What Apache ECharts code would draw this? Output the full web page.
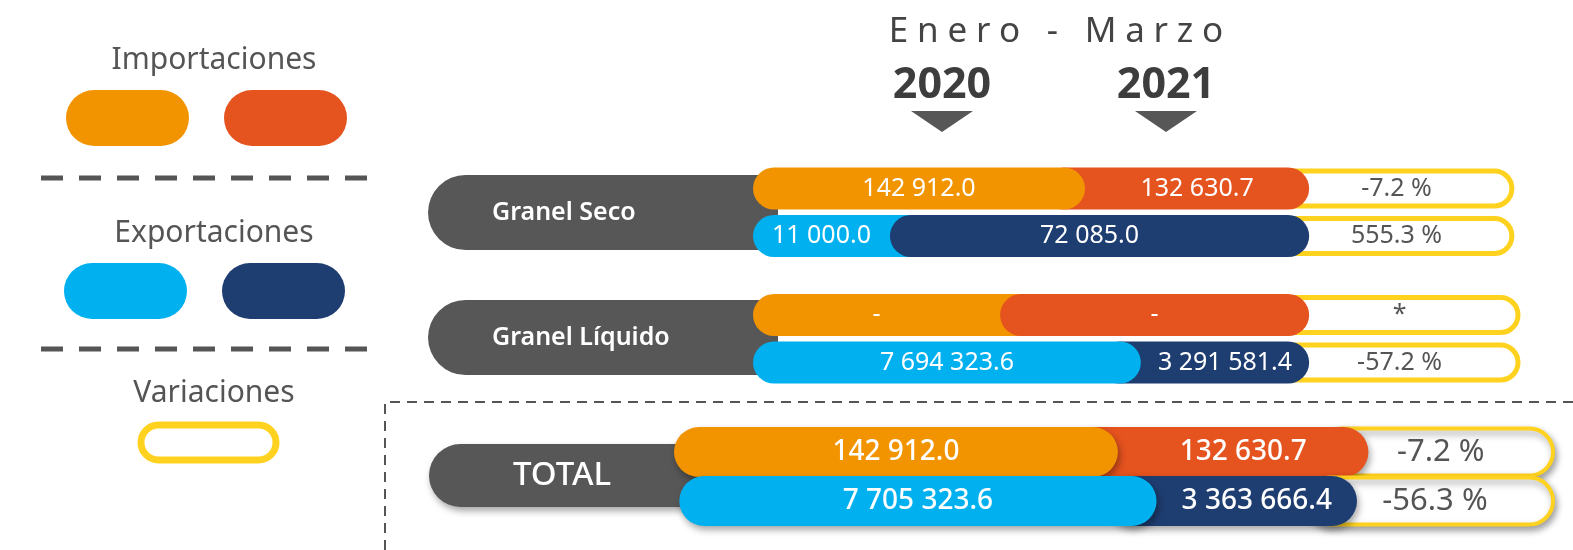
<!DOCTYPE html>
<html>
<head>
<meta charset="utf-8">
<script src="https://cdn.jsdelivr.net/npm/echarts@6/dist/echarts.min.js"></script>
<style>
  html, body { margin: 0; padding: 0; background: #fff; }
  #main { width: 1573px; height: 550px; }
</style>
</head>
<body>
<div id="main"></div>
<script>
// grupos y flujos
const groups = ['Granel Seco', 'Granel Líquido', 'TOTAL']
const flows = ['Importaciones', 'Exportaciones']
const years = ['2020', '2021']

// valores (toneladas) tal como se leen
const imp2020 = ['142 912.0', '-', '142 912.0']
const imp2021 = ['132 630.7', '-', '132 630.7']
const exp2020 = ['11 000.0', '7 694 323.6', '7 705 323.6']
const exp2021 = ['72 085.0', '3 291 581.4', '3 363 666.4']
const impVar = ['-7.2 %', '*', '-7.2 %']
const expVar = ['555.3 %', '-57.2 %', '-56.3 %']

// largo de cada tramo (% de la pista)
const impStart = [0, 0, 0]
const impSplit = [43.4, 32.3, 50.5]
const impEnd = [72.7, 72.7, 79.0]
const impVarEnd = [99.2, 100, 100]
const expStart = [0, 0, 0.6]
const expSplit = [17.9, 50.7, 54.9]
const expEnd = [72.7, 72.7, 77.7]
const expVarEnd = [99.2, 100, 100]
// que tramo queda encima en el corte
const impTop = ['left', 'right', 'left']
const expTop = ['right', 'left', 'left']

const C = {
  orange: '#F29400', red: '#E5531F', light: '#00B0EF', dark: '#1E3D71',
  gray: '#575757', yellow: '#FFD21F', text: '#555555'
}
const FONT = '"Noto Sans", "Open Sans", sans-serif'

const chart = echarts.init(document.getElementById('main'))

const gridPos = [
  { left: 753, width: 765, top: 164.75, height: 95 },
  { left: 753, width: 765, top: 291.25, height: 95 },
  { left: 674, width: 879, top: 427.5, height: 98 }
]

const makeSeries = (g) => {
  const big = g === 2
  const rows = [
    [0, impStart[g], impSplit[g], impEnd[g], impVarEnd[g]],
    [1, expStart[g], expSplit[g], expEnd[g], expVarEnd[g]]
  ]
  const txt = [
    [imp2020[g], imp2021[g], impVar[g], impTop[g], C.orange, C.red],
    [exp2020[g], exp2021[g], expVar[g], expTop[g], C.light, C.dark]
  ]
  const shadow = big ? { shadowBlur: 7, shadowOffsetX: 2, shadowOffsetY: 4, shadowColor: 'rgba(0,0,0,0.35)' } : {}
  return {
    type: 'custom',
    xAxisIndex: g,
    yAxisIndex: g,
    data: rows,
    renderItem: (params, api) => {
      const row = api.value(0)
      const t = txt[row]
      const px = (v) => api.coord([v, row])[0]
      const y = api.coord([0, row])[1]
      const band = api.size([0, 1])[1]
      const h = big ? 50 : band * 0.884
      const vh = big ? 47 : 35
      const x0 = px(api.value(1)), xs = px(api.value(2)), xe = px(api.value(3)), xv = px(api.value(4))
      const fs = big ? 28 : 25
      const fw = big ? 500 : 400
      const pill = (x1, x2, color) => ({
        type: 'rect',
        shape: { x: x1, y: y - h / 2, width: x2 - x1, height: h, r: h / 2 },
        style: Object.assign({ fill: color }, shadow)
      })
      const label = (cx, s, color, size, weight) => ({
        type: 'text',
        style: {
          x: cx, y: y, text: s, fill: color, fontSize: size || fs, fontWeight: weight || fw,
          fontFamily: FONT, align: 'center', verticalAlign: 'middle'
        }
      })
      const children = []
      children.push({
        type: 'rect',
        shape: { x: xe - h, y: y - vh / 2, width: xv - (xe - h), height: vh, r: vh / 2 },
        style: Object.assign({ fill: '#fff', stroke: C.yellow, lineWidth: big ? 4 : 5 }, shadow)
      })
      if (t[3] === 'left') {
        children.push(pill(xs - h, xe, t[5]))
        children.push(pill(x0, xs, t[4]))
      } else {
        children.push(pill(x0, xs + h, t[4]))
        children.push(pill(xs, xe, t[5]))
      }
      children.push(label((x0 + xs) / 2, t[0], '#fff'))
      children.push(label((xs + xe) / 2 - (t[3] === 'right' && row === 1 && !big ? 10 : 0), t[1], '#fff'))
      children.push(label((xe + xv) / 2 - (big ? 20 : 14), t[2], C.text, big ? 31 : 25, 400))
      return { type: 'group', children: children }
    }
  }
}

const labelPill = (x, y, w, h, text, fs, center, shadow) => [
  {
    type: 'rect', z: 0,
    shape: { x: x, y: y, width: w, height: h, r: [h / 2, 0, 0, h / 2] },
    style: Object.assign({ fill: C.gray }, shadow ? { shadowBlur: 7, shadowOffsetX: 2, shadowOffsetY: 4, shadowColor: 'rgba(0,0,0,0.35)' } : {})
  },
  {
    type: 'text', z: 1,
    style: {
      x: center ? x + 133 : 492, y: y + h / 2, text: text, fill: '#fff',
      fontSize: fs, fontWeight: center ? 500 : 600, fontFamily: FONT,
      align: center ? 'center' : 'left', verticalAlign: 'middle'
    }
  }
]

const legendPill = (x, y, color) => ({
  type: 'rect',
  shape: { x: x, y: y, width: 123, height: 56, r: 28 },
  style: { fill: color }
})
const legendText = (y, s) => ({
  type: 'text',
  style: { x: 214, y: y, text: s, fill: C.text, fontSize: 30, fontFamily: FONT, align: 'center', verticalAlign: 'middle' }
})
const dashLine = (y) => ({
  type: 'line',
  shape: { x1: 41, y1: y, x2: 367, y2: y },
  style: { stroke: C.text, lineWidth: 5, lineDash: [22, 16] }
})
const yearMark = (cx, s) => [
  {
    type: 'text',
    style: { x: cx, y: 86, text: s, fill: '#3d3d3d', fontSize: 43, fontWeight: 'bold', fontFamily: FONT, align: 'center', verticalAlign: 'middle' }
  },
  {
    type: 'polygon',
    shape: { points: [[cx - 31, 111], [cx + 31, 111], [cx, 132]] },
    style: { fill: C.gray }
  }
]

const graphic = [
  legendText(60, flows[0]),
  legendPill(66, 90, C.orange),
  legendPill(224, 90, C.red),
  dashLine(178),
  legendText(233, flows[1]),
  legendPill(64, 263, C.light),
  legendPill(222, 263, C.dark),
  dashLine(349),
  legendText(393, 'Variaciones'),
  {
    type: 'rect',
    shape: { x: 141, y: 425, width: 135, height: 35, r: 17.5 },
    style: { fill: '#fff', stroke: C.yellow, lineWidth: 7 }
  },
  {
    type: 'polyline',
    shape: { points: [[385, 550], [385, 402], [1573, 402]] },
    style: { stroke: C.text, lineWidth: 2, lineDash: [10, 7], fill: null }
  },
  {
    type: 'text',
    style: {
      x: 1056, y: 32, text: 'Enero - Marzo'.split('').join('\u2005'),
      fill: '#444', fontSize: 35, fontFamily: FONT, align: 'center', verticalAlign: 'middle'
    }
  },
  ...yearMark(942, years[0]),
  ...yearMark(1166, years[1]),
  ...labelPill(428, 175, 350, 75, groups[0], 25, false, false),
  ...labelPill(428, 300, 350, 75, groups[1], 25, false, false),
  ...labelPill(429, 444, 280, 63, groups[2], 33, true, true)
]

chart.setOption({
  backgroundColor: '#fff',
  animation: false,
  graphic: graphic,
  grid: gridPos,
  xAxis: gridPos.map((p, i) => ({ type: 'value', gridIndex: i, min: 0, max: 100, show: false })),
  yAxis: gridPos.map((p, i) => ({ type: 'category', gridIndex: i, data: flows, inverse: true, show: false })),
  series: [makeSeries(0), makeSeries(1), makeSeries(2)]
})
</script>
</body>
</html>
